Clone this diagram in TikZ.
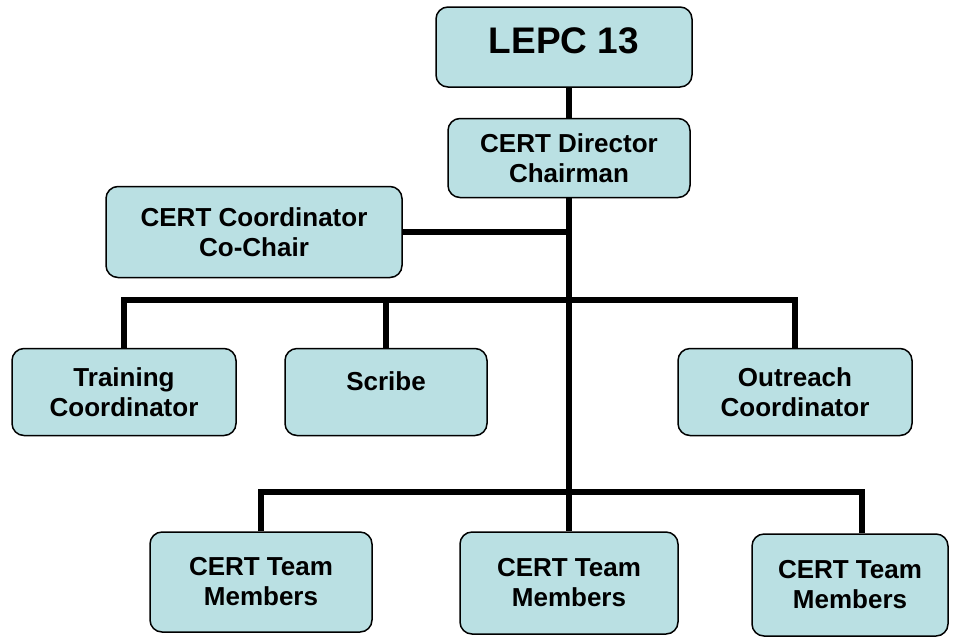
\documentclass[tikz,border=0pt]{standalone}
\usepackage{fontspec}
\setmainfont{Liberation Sans}
\usetikzlibrary{positioning}
\definecolor{boxfill}{RGB}{186,224,227}
\tikzset{
  orgbox/.style={draw, line width=1.5pt, fill=boxfill, rounded corners=12pt,
    align=center, inner sep=0pt, font=\fontsize{26}{30}\selectfont\bfseries},
  link/.style={line width=6.5pt, line join=miter}
}
\begin{document}
\begin{tikzpicture}[x=1pt,y=-1pt]
\useasboundingbox (0,0) rectangle (960,638);
% top of the chart
\node[orgbox, minimum width=256pt, minimum height=80pt, text depth=12pt,
  font=\fontsize{37}{40}\selectfont\bfseries] (lepc) at (564,47) {LEPC 13};
\node[orgbox, minimum width=242pt, minimum height=79pt] (dir) at (569,158)
  {CERT Director\\Chairman};
\node[orgbox, minimum width=296pt, minimum height=91pt] (coord) at (254,232)
  {CERT Coordinator\\Co-Chair};
% middle row
\node[orgbox, minimum width=224pt, minimum height=87pt] (train) at (124,392)
  {Training\\Coordinator};
\node[orgbox, minimum width=202pt, minimum height=87pt, text depth=22pt]
  (scribe) at (386,392) {Scribe};
\node[orgbox, minimum width=234pt, minimum height=87pt] (outr) at (795,392)
  {Outreach\\Coordinator};
% team members
\node[orgbox, minimum width=222pt, minimum height=100pt] (team1) at (261,582)
  {CERT Team\\Members};
\node[orgbox, minimum width=218pt, minimum height=102pt] (team2) at (569,583)
  {CERT Team\\Members};
\node[orgbox, minimum width=196pt, minimum height=102pt] (team3) at (850,585)
  {CERT Team\\Members};
% connectors
\coordinate (bus1) at (569,300);
\coordinate (bus2) at (569,492);
\draw[link] (dir.north |- lepc.south) -- (dir.north);
\draw[link] (dir.south) -- (team2.north);
\draw[link] (coord.east) -- (coord.east -| dir.south);
\draw[link] (train.north) |- (bus1) -| (outr.north);
\draw[link] (scribe.north) -- (scribe.north |- bus1);
\draw[link] (team1.north) |- (bus2) -| ([xshift=12pt]team3.north);
\end{tikzpicture}
\end{document}
